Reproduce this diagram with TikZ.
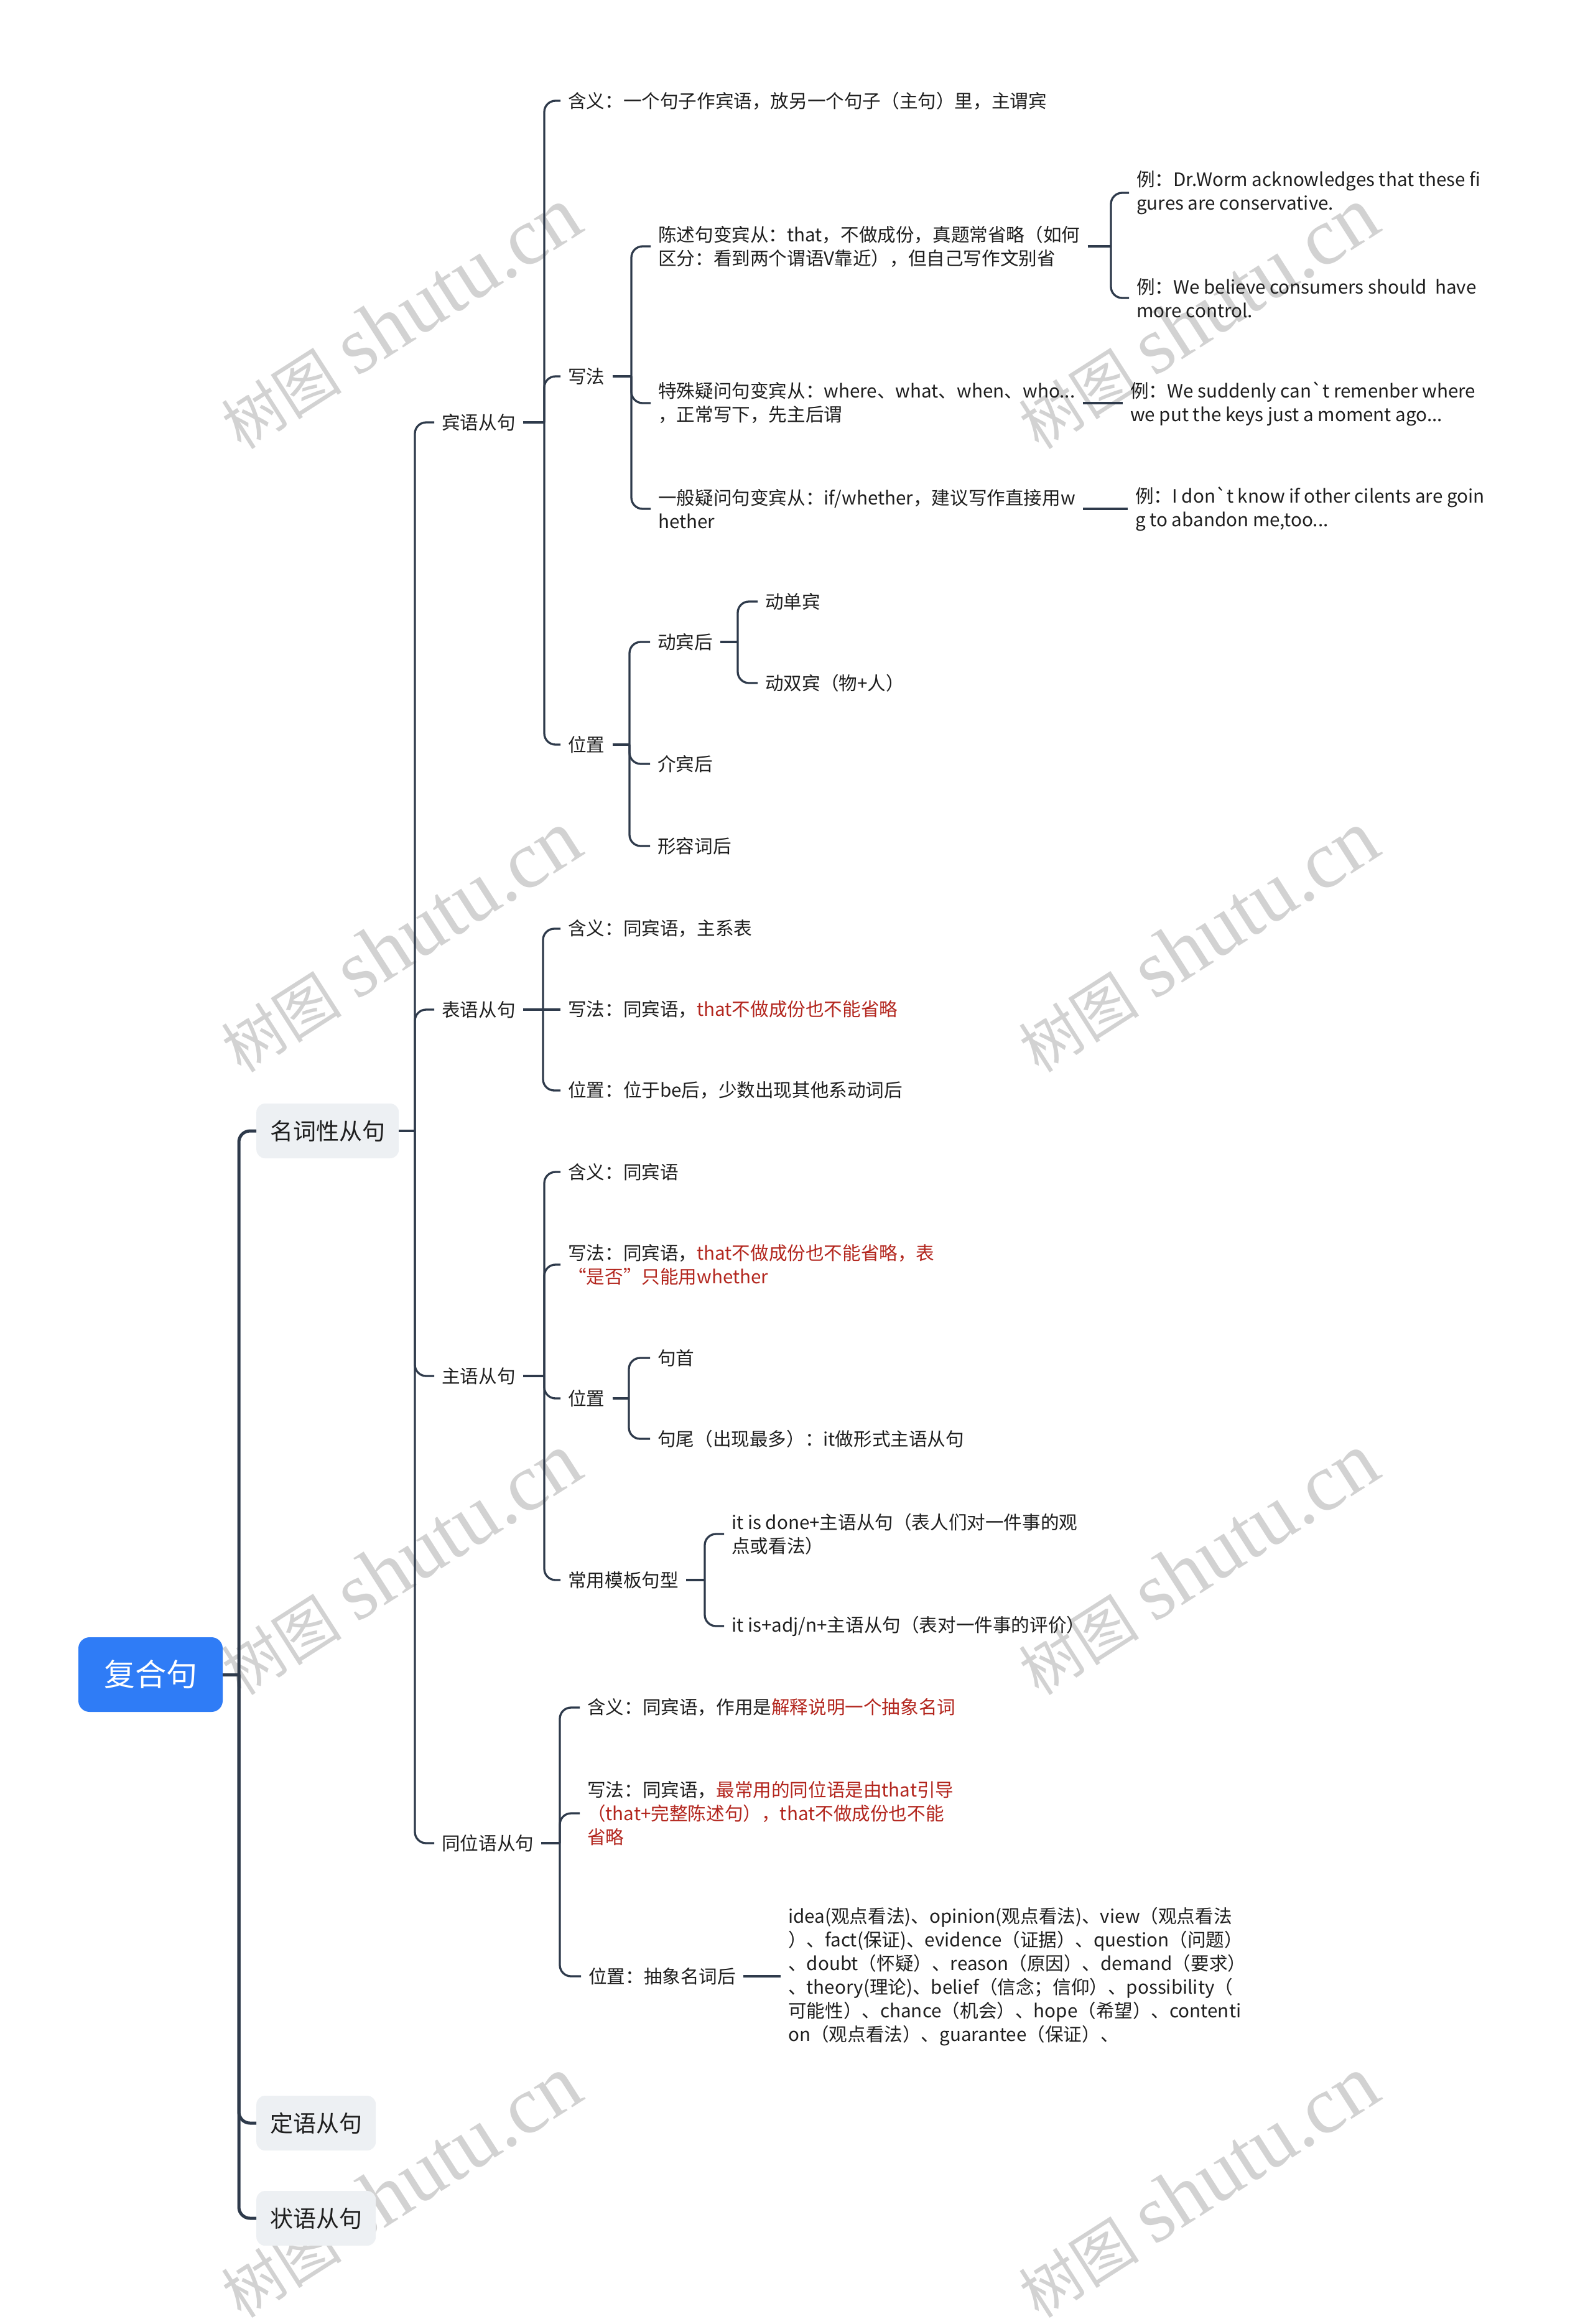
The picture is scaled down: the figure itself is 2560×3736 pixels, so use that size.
\documentclass[tikz,border=0pt]{standalone}
\usepackage{fontspec}
\setmainfont{Noto Sans CJK SC}
\newfontfamily\wmlatin{Liberation Serif}
\usetikzlibrary{calc}
\definecolor{linec}{HTML}{2E3A4B}
\definecolor{rootc}{HTML}{2F7CF6}
\definecolor{boxc}{HTML}{EDF0F3}
\definecolor{txtc}{HTML}{1E1E1E}
\definecolor{redc}{HTML}{B3261E}
\definecolor{wmc}{HTML}{D2D2D2}
\newcommand{\redtxt}[1]{\textcolor{redc}{#1}}
\begin{document}
\begin{tikzpicture}[x=1pt,y=-1pt,
  conn/.style={draw=linec, line width=3.3pt, rounded corners=18pt},
  connA/.style={draw=linec, line width=5pt, rounded corners=18pt},
  leaf/.style={anchor=west, align=left, inner xsep=12pt, inner ysep=4pt, text=txtc, font=\fontsize{29.6}{38}\selectfont},
  topic/.style={anchor=west, fill=boxc, rounded corners=14pt, inner xsep=22pt, minimum height=88pt, text=txtc, font=\fontsize{37}{44}\selectfont},
  rootnode/.style={fill=rootc, rounded corners=18pt, minimum width=232pt, minimum height=120pt, text=white, font=\fontsize{50}{60}\selectfont},
  wm/.style={text=wmc, rotate=32.6, inner sep=0pt}
]
\useasboundingbox (0,0) rectangle (2560,3736);
\fill[white] (0,0) rectangle (2560,3736);

% watermarks
\foreach \wx/\wy [count=\i] in {644/512,644/1514,644/2515,644/3516,1926/512,1926/1514,1926/2515,1926/3516}{
  \node[wm] (wm\i) at (\wx,\wy) {{\fontsize{97}{100}\selectfont 树图}\hspace{25pt}{\wmlatin\fontsize{131}{131}\selectfont shutu.cn}};
}

% root and level 1
\node[rootnode] (root) at (242,2692) {复合句};
\node[topic] (n1) at (412,1818) {名词性从句};
\node[topic] (n2) at (412,3413) {定语从句};
\node[topic] (n3) at (412,3566) {状语从句};

% level 2
\node[leaf] (a1) at (698,679) {宾语从句};
\node[leaf] (a2) at (698,1623) {表语从句};
\node[leaf] (a3) at (698,2212) {主语从句};
\node[leaf] (a4) at (698,2963) {同位语从句};

% 宾语从句
\node[leaf] (b1) at (901,162) {含义：一个句子作宾语，放另一个句子（主句）里，主谓宾};
\node[leaf] (b2) at (901,605) {写法};
\node[leaf] (b3) at (901,1197) {位置};

\node[leaf] (c1) at (1046,396) {陈述句变宾从：that，不做成份，真题常省略（如何\\区分：看到两个谓语V靠近），但自己写作文别省};
\node[leaf] (c2) at (1046,648) {特殊疑问句变宾从：where、what、when、who...\\，正常写下，先主后谓};
\node[leaf] (c3) at (1046,818) {一般疑问句变宾从：if/whether，建议写作直接用w\\hether};

\node[leaf] (d1) at (1815,310) {例：Dr.Worm acknowledges that these fi\\gures are conservative.};
\node[leaf] (d2) at (1815,479) {例：We believe consumers should~ have\\more control.};
\node[leaf] (d3) at (1805,649) {例：We suddenly can\textasciigrave t remenber where\\we put the keys just a moment ago...};
\node[leaf] (d4) at (1813,818) {例：I don\textasciigrave t know if other cilents are goin\\g to abandon me,too...};

\node[leaf] (e1) at (1045,1032) {动宾后};
\node[leaf] (e2) at (1045,1228) {介宾后};
\node[leaf] (e3) at (1045,1360) {形容词后};
\node[leaf] (f1) at (1218,967) {动单宾};
\node[leaf] (f2) at (1218,1098) {动双宾（物+人）};

% 表语从句
\node[leaf] (g1) at (901,1493) {含义：同宾语，主系表};
\node[leaf] (g2) at (901,1623) {写法：同宾语，\redtxt{that不做成份也不能省略}};
\node[leaf] (g3) at (901,1753) {位置：位于be后，少数出现其他系动词后};

% 主语从句
\node[leaf] (h1) at (901,1884) {含义：同宾语};
\node[leaf] (h2) at (901,2033) {写法：同宾语，\redtxt{that不做成份也不能省略，表}\\\redtxt{“是否”只能用whether}};
\node[leaf] (h3) at (901,2248) {位置};
\node[leaf] (h4) at (901,2540) {常用模板句型};
\node[leaf] (i1) at (1045,2183) {句首};
\node[leaf] (i2) at (1045,2313) {句尾（出现最多）：it做形式主语从句};
\node[leaf] (j1) at (1164,2466) {it is done+主语从句（表人们对一件事的观\\点或看法）};
\node[leaf] (j2) at (1164,2614) {it is+adj/n+主语从句（表对一件事的评价）};

% 同位语从句
\node[leaf] (k1) at (932,2745) {含义：同宾语，作用是\redtxt{解释说明一个抽象名词}};
\node[leaf] (k2) at (932,2915) {写法：同宾语，\redtxt{最常用的同位语是由that引导}\\\redtxt{（that+完整陈述句），that不做成份也不能}\\\redtxt{省略}};
\node[leaf] (k3) at (934,3177) {位置：抽象名词后};
\node[leaf] (l1) at (1255,3177) {idea(观点看法)、opinion(观点看法)、view（观点看法\\）、fact(保证)、evidence（证据）、question（问题）\\、doubt（怀疑）、reason（原因）、demand（要求）\\、theory(理论)、belief（信念；信仰）、possibility（\\可能性）、chance（机会）、hope（希望）、contenti\\on（观点看法）、guarantee（保证）、};

% trunk coordinates
\coordinate (T0) at (384,0);
\coordinate (T1) at (667,0);
\coordinate (T2) at (875,0);
\coordinate (T3) at (1015,0);
\coordinate (T4) at (1786,0);
\coordinate (T5) at (1012,0);
\coordinate (T6) at (1186,0);
\coordinate (T7) at (873,0);
\coordinate (T9) at (1011,0);
\coordinate (T10) at (1133,0);
\coordinate (T11) at (900,0);

% connectors level 1
\draw[connA] (root.east) -- (root.east -| T0);
\foreach \c in {n1,n2,n3} \draw[connA] (root.east -| T0) |- (\c.west);

% level 2
\draw[conn] (n1.east) -- (n1.east -| T1);
\foreach \c in {a1,a2,a3,a4} \draw[conn] (n1.east -| T1) |- (\c.west);

% 宾语从句
\draw[conn] (a1.east) -- (a1.east -| T2);
\foreach \c in {b1,b2,b3} \draw[conn] (a1.east -| T2) |- (\c.west);
\draw[conn] (b2.east) -- (b2.east -| T3);
\foreach \c in {c1,c2,c3} \draw[conn] (b2.east -| T3) |- (\c.west);
\draw[conn] (c1.east) -- (c1.east -| T4);
\foreach \c in {d1,d2} \draw[conn] (c1.east -| T4) |- (\c.west);
\draw[conn] (c2.east) -- (c2.east -| d3.west);
\draw[conn] (c3.east) -- (c3.east -| d4.west);
\draw[conn] (b3.east) -- (b3.east -| T5);
\foreach \c in {e1,e2,e3} \draw[conn] (b3.east -| T5) |- (\c.west);
\draw[conn] (e1.east) -- (e1.east -| T6);
\foreach \c in {f1,f2} \draw[conn] (e1.east -| T6) |- (\c.west);

% 表语从句
\draw[conn] (a2.east) -- (a2.east -| T7);
\foreach \c in {g1,g3} \draw[conn] (a2.east -| T7) |- (\c.west);
\draw[conn] (a2.east -| T7) -- (g2.west);

% 主语从句
\draw[conn] (a3.east) -- (a3.east -| T2);
\foreach \c in {h1,h2,h3,h4} \draw[conn] (a3.east -| T2) |- (\c.west);
\draw[conn] (h3.east) -- (h3.east -| T9);
\foreach \c in {i1,i2} \draw[conn] (h3.east -| T9) |- (\c.west);
\draw[conn] (h4.east) -- (h4.east -| T10);
\foreach \c in {j1,j2} \draw[conn] (h4.east -| T10) |- (\c.west);

% 同位语从句
\draw[conn] (a4.east) -- (a4.east -| T11);
\foreach \c in {k1,k2,k3} \draw[conn] (a4.east -| T11) |- (\c.west);
\draw[conn] (k3.east) -- (k3.east -| l1.west);
\end{tikzpicture}
\end{document}
